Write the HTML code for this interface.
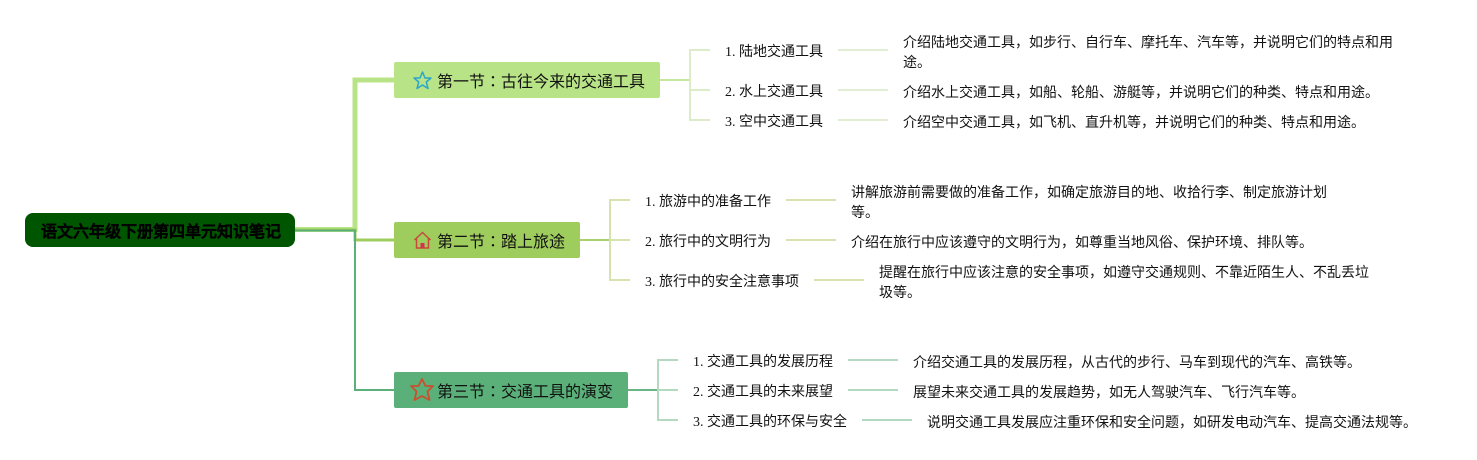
<!DOCTYPE html>
<html lang="zh-Hans">
<head>
<meta charset="utf-8">
<style>
html,body{margin:0;padding:0;background:#fff;width:1477px;height:460px;overflow:hidden}
svg{display:block}
text{font-family:"Liberation Serif","WenQuanYi Zen Hei",sans-serif;fill:#111}
.s{font-size:14px}
.m{font-size:16px}
tspan.c{font-family:"Noto Sans CJK TC",sans-serif}
</style>
</head>
<body>
<svg width="1477" height="460" viewBox="0 0 1477 460" xmlns="http://www.w3.org/2000/svg">
<!-- main connectors -->
<path d="M295 229.500H355V80H395" fill="none" stroke="#b8e487" stroke-width="5"/>
<path d="M295 230H355V240H395" fill="none" stroke="#9fcd5d" stroke-width="3"/>
<path d="M295 230.500H355V390H395" fill="none" stroke="#5ab078" stroke-width="2"/>
<!-- branches -->
<g fill="none" stroke-width="2">
<path d="M660 80H690" stroke="#c6e7a0"/>
<path d="M710 50H690V120H710M690 90H710" stroke="#dcecc8"/>
<path d="M838 50H888M838 90H888M838 120H888" stroke="#e2eed3"/>
<path d="M580 240H610" stroke="#a9d06c"/>
<path d="M630 200H610V280H630M610 240H630" stroke="#d6e3b0"/>
<path d="M786 200H836M786 240H836M814 280H864" stroke="#d6e3b0"/>
<path d="M628 390H658" stroke="#69b585"/>
<path d="M678 360H658V420H678M658 390H678" stroke="#b4d9c1"/>
<path d="M848 360H898M848 390H898M862 420H912" stroke="#b4d9c1"/>
</g>
<!-- nodes -->
<rect x="25" y="213" width="270" height="34" rx="8" fill="#005500"/>
<rect x="394" y="62" width="266" height="36" rx="2" fill="#b8e487"/>
<rect x="394" y="222" width="186" height="36" rx="2" fill="#9fcd5d"/>
<rect x="394" y="372" width="234" height="36" rx="2" fill="#5ab078"/>
<!-- icons -->
<path d="M422.500 72L425 78H431L426.300 82L428 88.500L422.500 85L417 88.500L418.700 82L414 78H420Z" fill="none" stroke="#2ba6c9" stroke-width="1.500" stroke-linejoin="round"/>
<path d="M414.500 240L422.500 232.500L430.500 240M416.500 238.500V248H428.500V238.500" fill="none" stroke="#c8493a" stroke-width="1.500"/>
<rect x="420.500" y="243" width="4" height="5" fill="#d6304a"/>
<path d="M422 379L425.500 386H433L427.500 391.500L429.500 400L422 396L414.500 400L416.500 391.500L411 386H418.500Z" fill="none" stroke="#c9502f" stroke-width="1.800" stroke-linejoin="round"/>
<!-- root text -->
<text x="41" y="237" style="font-size:16px;font-weight:bold;fill:#000;stroke:#000;stroke-width:.3">语文六年级下册第四单元知识笔记</text>
<!-- level 1 -->
<text x="437" y="87" class="m">第一节<tspan class="c" lang="zh-TW" xml:lang="zh-TW">：</tspan>古往今来的交通工具</text>
<text x="437" y="247" class="m">第二节<tspan class="c" lang="zh-TW" xml:lang="zh-TW">：</tspan>踏上旅途</text>
<text x="437" y="397" class="m">第三节<tspan class="c" lang="zh-TW" xml:lang="zh-TW">：</tspan>交通工具的演变</text>
<!-- level 2 -->
<text x="725" y="56" class="s">1. 陆地交通工具</text>
<text x="725" y="96" class="s">2. 水上交通工具</text>
<text x="725" y="126" class="s">3. 空中交通工具</text>
<text x="645" y="206" class="s">1. 旅游中的准备工作</text>
<text x="645" y="246" class="s">2. 旅行中的文明行为</text>
<text x="645" y="286" class="s">3. 旅行中的安全注意事项</text>
<text x="693" y="366" class="s">1. 交通工具的发展历程</text>
<text x="693" y="396" class="s">2. 交通工具的未来展望</text>
<text x="693" y="426" class="s">3. 交通工具的环保与安全</text>
<!-- level 3 -->
<text x="903" y="47" class="s">介绍陆地交通工具，如步行、自行车、摩托车、汽车等，并说明它们的特点和用</text>
<text x="903" y="67" class="s">途。</text>
<text x="903" y="97" class="s">介绍水上交通工具，如船、轮船、游艇等，并说明它们的种类、特点和用途。</text>
<text x="903" y="127" class="s">介绍空中交通工具，如飞机、直升机等，并说明它们的种类、特点和用途。</text>
<text x="851" y="197" class="s">讲解旅游前需要做的准备工作，如确定旅游目的地、收拾行李、制定旅游计划</text>
<text x="851" y="217" class="s">等。</text>
<text x="851" y="247" class="s">介绍在旅行中应该遵守的文明行为，如尊重当地风俗、保护环境、排队等。</text>
<text x="879" y="277" class="s">提醒在旅行中应该注意的安全事项，如遵守交通规则、不靠近陌生人、不乱丢垃</text>
<text x="879" y="297" class="s">圾等。</text>
<text x="913" y="367" class="s">介绍交通工具的发展历程，从古代的步行、马车到现代的汽车、高铁等。</text>
<text x="913" y="397" class="s">展望未来交通工具的发展趋势，如无人驾驶汽车、飞行汽车等。</text>
<text x="927" y="427" class="s">说明交通工具发展应注重环保和安全问题，如研发电动汽车、提高交通法规等。</text>
</svg>
</body>
</html>
